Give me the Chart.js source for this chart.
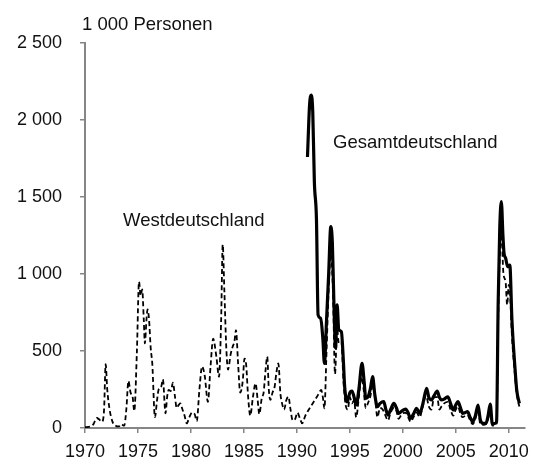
<!DOCTYPE html>
<html>
<head>
<meta charset="utf-8">
<script src="https://cdn.jsdelivr.net/npm/chart.js@4"></script>
<style>
  html, body { margin: 0; padding: 0; background: #fff; }
  #wrap { width: 537px; height: 469px; }
</style>
</head>
<body>
<div id="wrap"><canvas id="chart" width="537" height="469"></canvas></div>
<script>
// values (1 000 Personen)
const westYears = [
  1970.0, 1970.5, 1970.8, 1971.1, 1971.35, 1971.6, 1971.8, 1971.95, 1972.1, 1972.3,
  1972.6, 1972.9, 1973.2, 1973.4, 1973.7, 1973.9, 1974.1, 1974.3, 1974.5, 1974.65,
  1974.9, 1975.1, 1975.25, 1975.4, 1975.55, 1975.65, 1975.8, 1975.9, 1976.05, 1976.2,
  1976.35, 1976.6, 1976.8, 1976.95, 1977.2, 1977.35, 1977.6, 1977.75, 1977.9, 1978.1,
  1978.3, 1978.5, 1978.65, 1978.85, 1979.0, 1979.2, 1979.4, 1979.6, 1979.85, 1980.1,
  1980.35, 1980.55, 1980.8, 1981.05, 1981.3, 1981.6, 1981.85, 1982.1, 1982.4, 1982.65,
  1982.85, 1983.0, 1983.15, 1983.35, 1983.5, 1983.75, 1983.95, 1984.1, 1984.25, 1984.45,
  1984.65, 1984.9, 1985.05, 1985.2, 1985.4, 1985.6, 1985.85, 1986.1, 1986.3, 1986.45,
  1986.7, 1986.85, 1987.05, 1987.2, 1987.35, 1987.5, 1987.7, 1987.9, 1988.05, 1988.25,
  1988.45, 1988.6, 1988.8, 1989.0, 1989.2, 1989.4, 1989.6, 1989.85, 1990.05, 1990.3,
  1990.5, 1990.8, 1991.1, 1991.4, 1991.7, 1992.0, 1992.3, 1992.45, 1992.6, 1992.8,
  1993.0, 1993.2, 1993.4, 1993.6, 1993.8, 1993.95, 1994.2, 1994.4, 1994.6, 1994.8,
  1995.0, 1995.2, 1995.4, 1995.6, 1995.85, 1996.1, 1996.3, 1996.5, 1996.7, 1996.95,
  1997.15, 1997.4, 1997.6, 1997.85, 1998.1, 1998.3, 1998.6, 1998.85, 1999.15, 1999.4,
  1999.6, 1999.9, 2000.25, 2000.5, 2000.75, 2001.0, 2001.3, 2001.6, 2001.85, 2002.2,
  2002.45, 2002.7, 2002.95, 2003.25, 2003.45, 2003.65, 2003.9, 2004.25, 2004.5, 2004.75,
  2005.0, 2005.2, 2005.45, 2005.65, 2005.9, 2006.1, 2006.35, 2006.6, 2006.85, 2007.1,
  2007.3, 2007.6, 2007.85, 2008.05, 2008.25, 2008.45, 2008.7, 2008.85, 2009.0, 2009.2,
  2009.3, 2009.5, 2009.7, 2009.85, 2010.0, 2010.1, 2010.3, 2010.6, 2010.75, 2011.0
];
const westValues = [
  5, 10, 25, 65, 55, 40, 120, 414, 250, 130,
  40, 15, 10, 25, 15, 120, 305, 230, 200, 110,
  500, 950, 860, 900, 700, 550, 700, 770, 700, 520,
  420, 70, 180, 250, 270, 316, 95, 200, 247, 240,
  294, 200, 130, 150, 160, 120, 80, 30, 70, 100,
  90, 45, 250, 400, 340, 170, 400, 580, 463, 333,
  700, 1190, 900, 500, 380, 480, 530, 560, 636, 420,
  230, 312, 450, 420, 200, 80, 200, 290, 180, 90,
  200, 225, 380, 463, 250, 182, 230, 268, 350, 420,
  220, 160, 120, 180, 203, 120, 50, 60, 100, 60,
  30, 80, 117, 150, 182, 215, 247, 200, 128, 500,
  900, 1130, 900, 350, 650, 550, 560, 300, 150, 120,
  200, 160, 180, 70, 200, 330, 250, 130, 160, 210,
  280, 180, 70, 130, 120, 90, 50, 100, 130, 110,
  60, 90, 100, 70, 40, 70, 100, 70, 130, 210,
  140, 120, 200, 200, 120, 140, 160, 170, 120, 80,
  120, 140, 90, 70, 80, 85, 50, 25, 60, 110,
  30, 20, 25, 60, 120, 15, 20, 30, 700, 1200,
  1260, 1000, 950, 800, 930, 900, 600, 330, 220, 140
];

const gesamtYears = [
  1991.0, 1991.2, 1991.35, 1991.5, 1991.65, 1991.85, 1992.0, 1992.25, 1992.45, 1992.6,
  1992.8, 1993.0, 1993.2, 1993.35, 1993.5, 1993.65, 1993.8, 1993.95, 1994.2, 1994.4,
  1994.5, 1994.75, 1995.0, 1995.2, 1995.4, 1995.6, 1995.85, 1996.15, 1996.35, 1996.5,
  1996.7, 1996.95, 1997.15, 1997.35, 1997.6, 1997.85, 1998.2, 1998.4, 1998.6, 1998.85,
  1999.15, 1999.4, 1999.6, 1999.9, 2000.25, 2000.5, 2000.7, 2001.0, 2001.3, 2001.6,
  2001.9, 2002.25, 2002.45, 2002.7, 2002.95, 2003.25, 2003.45, 2003.65, 2003.95, 2004.25,
  2004.5, 2004.75, 2005.0, 2005.2, 2005.45, 2005.65, 2005.9, 2006.1, 2006.35, 2006.6,
  2006.85, 2007.1, 2007.3, 2007.45, 2007.6, 2007.85, 2008.05, 2008.25, 2008.45, 2008.7,
  2008.85, 2009.0, 2009.15, 2009.3, 2009.45, 2009.55, 2009.7, 2009.9, 2010.1, 2010.3,
  2010.6, 2010.75, 2011.0
];
const gesamtValues = [
  1760, 2100, 2162, 2050, 1600, 1350, 734, 712, 582, 420,
  700, 1000, 1307, 1200, 800, 520, 799, 640, 625, 420,
  279, 170, 230, 240, 200, 150, 250, 420, 300, 193,
  200, 260, 333, 220, 138, 160, 171, 120, 84, 120,
  160, 130, 95, 110, 123, 100, 63, 90, 128, 95,
  160, 258, 200, 182, 210, 240, 200, 182, 190, 203,
  160, 117, 150, 171, 130, 95, 100, 106, 70, 41,
  80, 149, 60, 34, 30, 30, 80, 156, 26, 30,
  41, 812, 1300, 1470, 1250, 1136, 1104, 1047, 1058, 701,
  377, 247, 160
];

const xTicks = [1970, 1975, 1980, 1985, 1990, 1995, 2000, 2005, 2010];
const yTicks = [0, 500, 1000, 1500, 2000, 2500];

const unitLabel = '1 000 Personen';
const westLabel = 'Westdeutschland';
const gesamtLabel = 'Gesamtdeutschland';

const axisGrey = '#868686';
const fontFamily = '"Liberation Sans", Arial, sans-serif';

function toPoints(xs, ys) {
  return xs.map((x, i) => ({ x: x, y: ys[i] }));
}

function formatThousands(v) {
  return String(v).replace(/\B(?=(\d{3})+(?!\d))/g, ' ');
}

// free text: unit above the y axis and the two series names
const textLabels = {
  id: 'textLabels',
  afterDraw(chart) {
    const ctx = chart.ctx;
    const area = chart.chartArea;
    ctx.save();
    ctx.fillStyle = '#111';
    ctx.font = '18.5px ' + fontFamily;
    ctx.textBaseline = 'middle';
    ctx.textAlign = 'left';
    ctx.fillText(unitLabel, area.left - 3, area.top - 18);
    ctx.fillText(westLabel, 123, 221);
    ctx.fillText(gesamtLabel, 333, 143);
    ctx.restore();
  }
};

new Chart(document.getElementById('chart'), {
  type: 'line',
  data: {
    datasets: [
      {
        label: gesamtLabel,
        data: toPoints(gesamtYears, gesamtValues),
        borderColor: '#000',
        borderWidth: 3.2,
        pointRadius: 0,
        cubicInterpolationMode: 'monotone',
        fill: false
      },
      {
        label: westLabel,
        data: toPoints(westYears, westValues),
        borderColor: '#000',
        borderWidth: 1.8,
        borderDash: [5, 3],
        pointRadius: 0,
        cubicInterpolationMode: 'monotone',
        fill: false
      }
    ]
  },
  options: {
    responsive: false,
    animation: false,
    events: [],
    layout: { padding: { left: 0, right: 6, top: 43, bottom: 0 } },
    plugins: {
      legend: { display: false },
      tooltip: { enabled: false }
    },
    scales: {
      x: {
        type: 'linear',
        min: 1970,
        max: 2011.5,
        afterFit(scale) { scale.height = 41; },
        afterBuildTicks(scale) { scale.ticks = xTicks.map(v => ({ value: v })); },
        border: { color: axisGrey, width: 2 },
        grid: { drawOnChartArea: false, drawTicks: true, tickLength: 5, color: axisGrey, lineWidth: 1.5 },
        ticks: {
          color: '#111',
          font: { family: fontFamily, size: 18 },
          padding: 8,
          maxRotation: 0,
          callback: v => String(v)
        }
      },
      y: {
        min: 0,
        max: 2500,
        afterFit(scale) { scale.width = 85; },
        afterBuildTicks(scale) { scale.ticks = yTicks.map(v => ({ value: v })); },
        border: { color: axisGrey, width: 2 },
        grid: { drawOnChartArea: false, drawTicks: true, tickLength: 5, color: axisGrey, lineWidth: 1.5 },
        ticks: {
          color: '#111',
          font: { family: fontFamily, size: 18 },
          padding: 18,
          callback: v => formatThousands(v)
        }
      }
    }
  },
  plugins: [textLabels]
});
</script>
</body>
</html>
